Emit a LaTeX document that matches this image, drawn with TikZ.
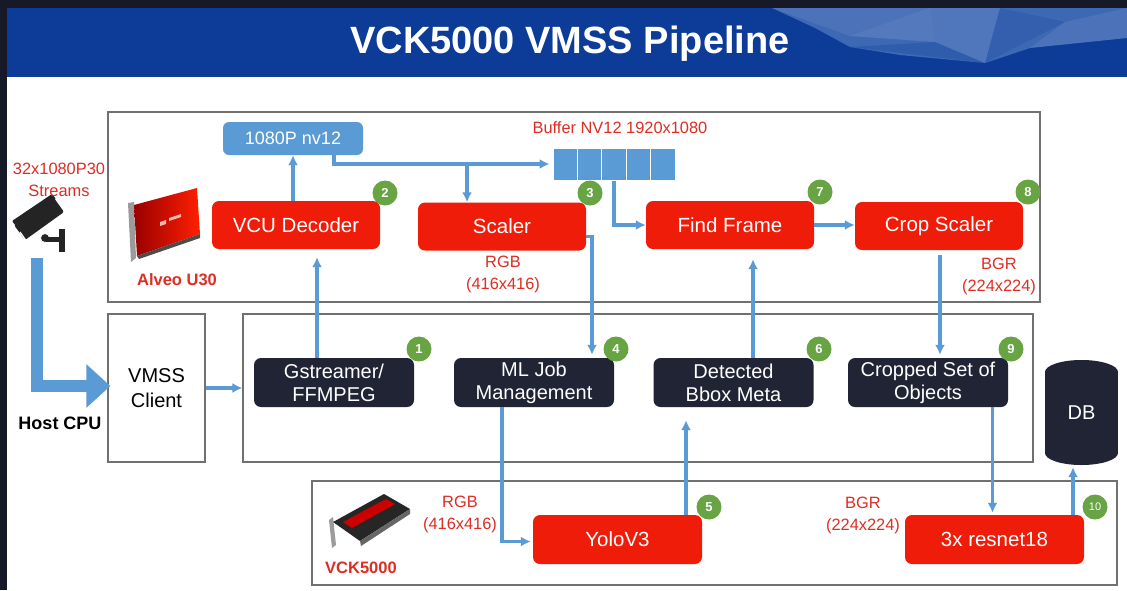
\documentclass[tikz,border=0pt]{standalone}
\usepackage{fontspec}
\setmainfont{Liberation Sans}
\usetikzlibrary{arrows.meta,calc}

\definecolor{framedark}{RGB}{22,26,40}
\definecolor{hdrblue}{RGB}{13,59,152}
\definecolor{boxred}{RGB}{238,28,8}
\definecolor{boxdark}{RGB}{32,36,52}
\definecolor{flowblue}{RGB}{91,155,213}
\definecolor{badgegreen}{RGB}{104,163,68}
\definecolor{labelred}{RGB}{222,45,35}
\definecolor{panelgray}{RGB}{112,112,112}
\definecolor{camgray}{RGB}{36,36,36}
\definecolor{facet}{RGB}{120,160,215}

\begin{document}
\begin{tikzpicture}[x=1pt,y=-1pt,
  panel/.style={draw=panelgray,line width=1.2pt,fill=white,inner sep=0pt},
  redbox/.style={fill=boxred,rounded corners=7pt,text=white,inner sep=0pt,
    minimum width=168pt,minimum height=48pt,font=\fontsize{20.5}{24}\selectfont},
  darkbox/.style={fill=boxdark,rounded corners=7pt,text=white,inner sep=0pt,align=center,
    minimum width=160pt,minimum height=49pt,font=\fontsize{20}{23}\selectfont},
  bluebox/.style={fill=flowblue,rounded corners=6pt,text=white,inner sep=0pt,
    minimum width=140pt,minimum height=33pt,font=\fontsize{18}{20}\selectfont},
  cell/.style={fill=flowblue,draw=white,line width=1pt,minimum width=24.4pt,minimum height=32pt,inner sep=0pt},
  badge/.style={circle,fill=badgegreen,text=white,inner sep=0pt,minimum size=25pt,
    font=\bfseries\fontsize{13}{13}\selectfont},
  redlabel/.style={text=labelred,align=center,inner sep=0pt,font=\fontsize{16.4}{22}\selectfont},
  cardlabel/.style={text=labelred,inner sep=0pt,font=\bfseries\fontsize{16.5}{18}\selectfont},
  flow/.style={draw=flowblue,line width=3.2pt,-{Latex[length=10pt,width=10pt]}},
  bigflow/.style={draw=flowblue,line width=12pt,line join=miter,-{Triangle[length=24pt,width=42pt]}}
]
\useasboundingbox (0,0) rectangle (1127,590);

% page frame, body and title band
\fill[framedark] (0,0) rectangle (1127,590);
\fill[white] (7,77) rectangle (1127,590);
\fill[hdrblue] (7,8) rectangle (1127,77);
\begin{scope}
  \clip (7,8) rectangle (1127,77);
  \fill[facet,opacity=0.45] (772,8) -- (1127,8) -- (1127,38) -- (1030,48) -- (985,63)
        -- (900,55) -- (850,47) -- (815,28) -- cycle;
  \fill[white,opacity=0.08] (772,8) -- (930,8) -- (850,36) -- cycle;
  \fill[white,opacity=0.12] (850,36) -- (930,8) -- (935,42) -- cycle;
  \fill[hdrblue,opacity=0.25] (850,47) -- (935,42) -- (985,63) -- cycle;
  \fill[white,opacity=0.10] (930,8) -- (1000,8) -- (985,63) -- (935,42) -- cycle;
  \fill[hdrblue,opacity=0.20] (1000,8) -- (1065,22) -- (985,63) -- cycle;
  \fill[white,opacity=0.08] (1065,22) -- (1127,8) -- (1127,38) -- (1030,48) -- cycle;
\end{scope}
\node[text=white,inner sep=0pt,font=\bfseries\fontsize{38}{40}\selectfont] (title) at (570,44) {VCK5000 VMSS Pipeline};

% containers
\node[panel,minimum width=932pt,minimum height=190pt] (u30panel) at (574,207) {};
\node[panel,minimum width=790pt,minimum height=148pt] (midpanel) at (638,388) {};
\node[panel,minimum width=805pt,minimum height=104pt] (vckpanel) at (714.5,533) {};
\node[panel,minimum width=97pt,minimum height=148pt,align=center,
      font=\fontsize{20}{25}\selectfont] (vmss) at (156.5,388) {VMSS\\Client};

% surveillance camera
\fill[camgray,rounded corners=2pt] (14,225) -- (54,198) -- (64,212) -- (25,240) -- cycle;
\fill[camgray,rounded corners=1pt] (12,221) -- (52,194) -- (56,199) -- (16,226) -- cycle;
\draw[white,line width=1.3pt] (20,232) -- (27,242);
\fill[camgray] (45,238) circle [radius=4.5];
\draw[white,line width=0.8pt] (45,238) circle [radius=4.5];
\fill[camgray] (46,236.5) rectangle (62,241.5);
\fill[camgray] (59,229) rectangle (65,252);
\coordinate (camfoot) at (37,258);

% Alveo U30 card
\fill[panelgray!70] (128,203) -- (134,202) -- (136,258) -- (131,262) -- cycle;
\shade[left color=red!60!black,right color=red!75!orange] (134,205) -- (197,188) -- (200,234) -- (137,256) -- cycle;
\fill[black!70] (137,256) -- (200,234) -- (200,238) -- (139,259) -- cycle;
\fill[white,opacity=0.7] (160,222) -- (166,220) -- (166,224) -- (160,226) -- cycle;
\fill[white,opacity=0.7] (169,218) -- (181,214) -- (181,217) -- (169,221) -- cycle;

% VCK5000 card
\fill[panelgray!70] (329,520) -- (333,517) -- (336,545) -- (332,548) -- cycle;
\fill[black!85] (333,522) -- (384,494) -- (410,509) -- (360,541) -- cycle;
\fill[black!60] (360,541) -- (410,509) -- (410,514) -- (361,546) -- cycle;
\fill[red!80!black] (343,522) -- (386,499) -- (395,504) -- (352,528) -- cycle;

% labels
\node[redlabel] (streams) at (59,180) {32x1080P30\\Streams};
\node[inner sep=0pt,font=\bfseries\fontsize{18}{20}\selectfont] (hostcpu) at (60,423) {Host CPU};
\node[cardlabel] (alveo) at (177,280) {Alveo U30};
\node[cardlabel] (vcklbl) at (361,568) {VCK5000};
\node[redlabel] (rgbup) at (503,274) {RGB\\(416x416)};
\node[redlabel] (bgrup) at (999,276) {BGR\\(224x224)};
\node[redlabel] (rgbdn) at (460,514) {RGB\\(416x416)};
\node[redlabel] (bgrdn) at (863,515) {BGR\\(224x224)};
\node[redlabel] (buflbl) at (620,128) {Buffer NV12 1920x1080};

% processing blocks
\node[bluebox] (nv12) at (293,138.5) {1080P nv12};
\node[redbox] (vcu) at (296,225) {VCU Decoder};
\node[redbox] (scaler) at (502,226.5) {Scaler};
\node[redbox] (findframe) at (730,225) {Find Frame};
\node[redbox] (cropscaler) at (939,226) {Crop Scaler};
\node[darkbox] (gst) at (334,382.5) {Gstreamer/\\FFMPEG};
\node[darkbox] (mljob) at (534,382.5) {ML Job\\Management};
\node[darkbox] (bbox) at (733.5,382.5) {Detected\\Bbox Meta};
\node[darkbox] (cropped) at (928,382.5) {Cropped Set of\\Objects};
\node[redbox,minimum width=169pt,minimum height=49pt] (yolo) at (617.5,539.5) {YoloV3};
\node[redbox,minimum width=179pt,minimum height=49pt] (resnet) at (994.5,539.5) {3x resnet18};

% frame buffer
\foreach \i/\cx in {1/565.2,2/589.6,3/614,4/638.4,5/662.8}
  \node[cell] (cell\i) at (\cx,164) {};

% database
\fill[boxdark] (1045,372) rectangle (1118,453);
\fill[boxdark] (1081.5,372) ellipse [x radius=36.5, y radius=12];
\fill[boxdark] (1081.5,453) ellipse [x radius=36.5, y radius=12];
\node[text=white,inner sep=0pt,minimum width=73pt,minimum height=105pt,
      font=\fontsize{20}{20}\selectfont] (db) at (1081.5,412.5) {DB};

% step badges
\node[badge] (b1) at (419,349) {1};
\node[badge] (b2) at (385,193) {2};
\node[badge] (b3) at (590,193) {3};
\node[badge] (b4) at (616,349) {4};
\node[badge] (b5) at (709,507) {5};
\node[badge] (b6) at (819,349) {6};
\node[badge] (b7) at (820,192) {7};
\node[badge] (b8) at (1028,192) {8};
\node[badge] (b9) at (1011,349) {9};
\node[badge,font=\fontsize{11}{11}\selectfont] (b10) at (1095,507) {10};

% connectors
\draw[bigflow] (camfoot) |- ($(vmss.west)+(3,-2)$);
\draw[flow] (vmss.east) -- (midpanel.west);
\draw[flow] ($(gst.north)+(-17,0)$) -- ($(vcu.south)+(21,8)$);
\draw[flow] (vcu.north -| nv12.south) -- (nv12.south);
\draw[flow] ($(nv12.south)+(41,0)$) |- ($(cell1.west)+(-3,0)$);
\draw[flow] ($(scaler.north |- cell1.west)+(-35,0)$) -- ($(scaler.north)+(-35,0)$);
\draw[flow] (cell3.south) |- (findframe.west);
\draw[flow] (findframe.east) -- (findframe.east -| cropscaler.west);
\draw[flow] ($(scaler.east)+(0,10)$) -| ($(mljob.north)+(58,-3)$);
\draw[flow] ($(bbox.north)+(19.5,0)$) -- ($(findframe.south)+(23,10)$);
\draw[flow] ($(cropscaler.south)+(1,5)$) -- ($(cropped.north)+(12,-3)$);
\draw[flow] ($(mljob.south)+(-32,0)$) |- ($(yolo.west)+(-2,2)$);
\draw[flow] ($(yolo.north)+(68.5,0)$) -- ($(bbox.south)+(-47.5,13)$);
\draw[flow] ($(cropped.south)+(64.5,0)$) -- ($(resnet.north)+(-2,-2)$);
\draw[flow] ($(resnet.north)+(78.5,0)$) -- ($(db.south)+(-8.5,2)$);
\end{tikzpicture}
\end{document}
